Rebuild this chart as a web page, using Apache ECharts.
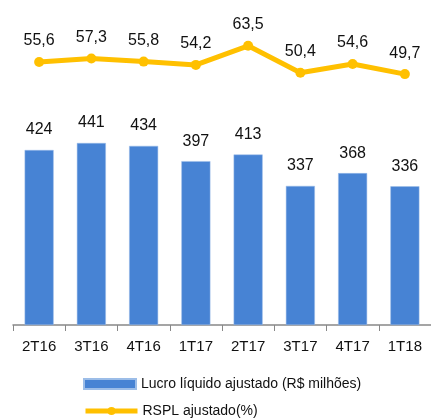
<!DOCTYPE html>
<html>
<head>
<meta charset="utf-8">
<script src="https://cdn.jsdelivr.net/npm/echarts@6/dist/echarts.min.js"></script>
<style>
html, body { margin: 0; padding: 0; background: #ffffff; }
#chart { width: 431px; height: 420px; }
</style>
</head>
<body>
<div id="chart"></div>
<script>
var categories = ['2T16', '3T16', '4T16', '1T17', '2T17', '3T17', '4T17', '1T18'];
var lucro = [424, 441, 434, 397, 413, 337, 368, 336];
var rspl = [55.6, 57.3, 55.8, 54.2, 63.5, 50.4, 54.6, 49.7];

var fmt = function (p) {
	return String(p.value).replace('.', ',');
};

var myChart = echarts.init(document.getElementById('chart'));

var legendBase = {
	left: 78,
	itemWidth: 52,
	itemHeight: 10,
	textStyle: { fontSize: 14, color: '#111' }
};

var option = {
	backgroundColor: '#ffffff',
	animation: false,
	textStyle: { fontFamily: 'Arial, "Liberation Sans", sans-serif' },
	grid: { left: 13, right: -2, top: 20, bottom: 95 },
	legend: [
		Object.assign({}, legendBase, {
			top: 372,
			data: [{ name: 'Lucro líquido ajustado (R$ milhões)', icon: 'rect' }]
		}),
		Object.assign({}, legendBase, {
			top: 399,
			lineStyle: { width: 5 },
			data: [{ name: 'RSPL ajustado(%)' }]
		})
	],
	xAxis: {
		type: 'category',
		data: categories,
		axisLine: { lineStyle: { color: '#888', width: 1.5 } },
		axisTick: { show: true, length: 6, lineStyle: { color: '#888' } },
		axisLabel: { fontSize: 15, color: '#111', margin: 14 }
	},
	yAxis: [
		{ type: 'value', min: 0, max: 739, show: false, splitLine: { show: false } },
		{ type: 'value', min: -72.7, max: 76.1, show: false, splitLine: { show: false } }
	],
	series: [
		{
			name: 'Lucro líquido ajustado (R$ milhões)',
			type: 'bar',
			data: lucro,
			barWidth: 29,
			itemStyle: { color: '#4783D4', borderColor: '#9cbde8', borderWidth: 0.5 },
			label: { show: true, position: 'top', distance: 12, fontSize: 16, color: '#111' }
		},
		{
			name: 'RSPL ajustado(%)',
			type: 'line',
			yAxisIndex: 1,
			data: rspl,
			symbol: 'circle',
			symbolSize: 10,
			lineStyle: { color: '#FFC000', width: 5 },
			itemStyle: { color: '#FFC000' },
			label: { show: true, position: 'top', distance: 8, fontSize: 16, color: '#111', formatter: fmt }
		}
	]
};

myChart.setOption(option);
</script>
</body>
</html>
